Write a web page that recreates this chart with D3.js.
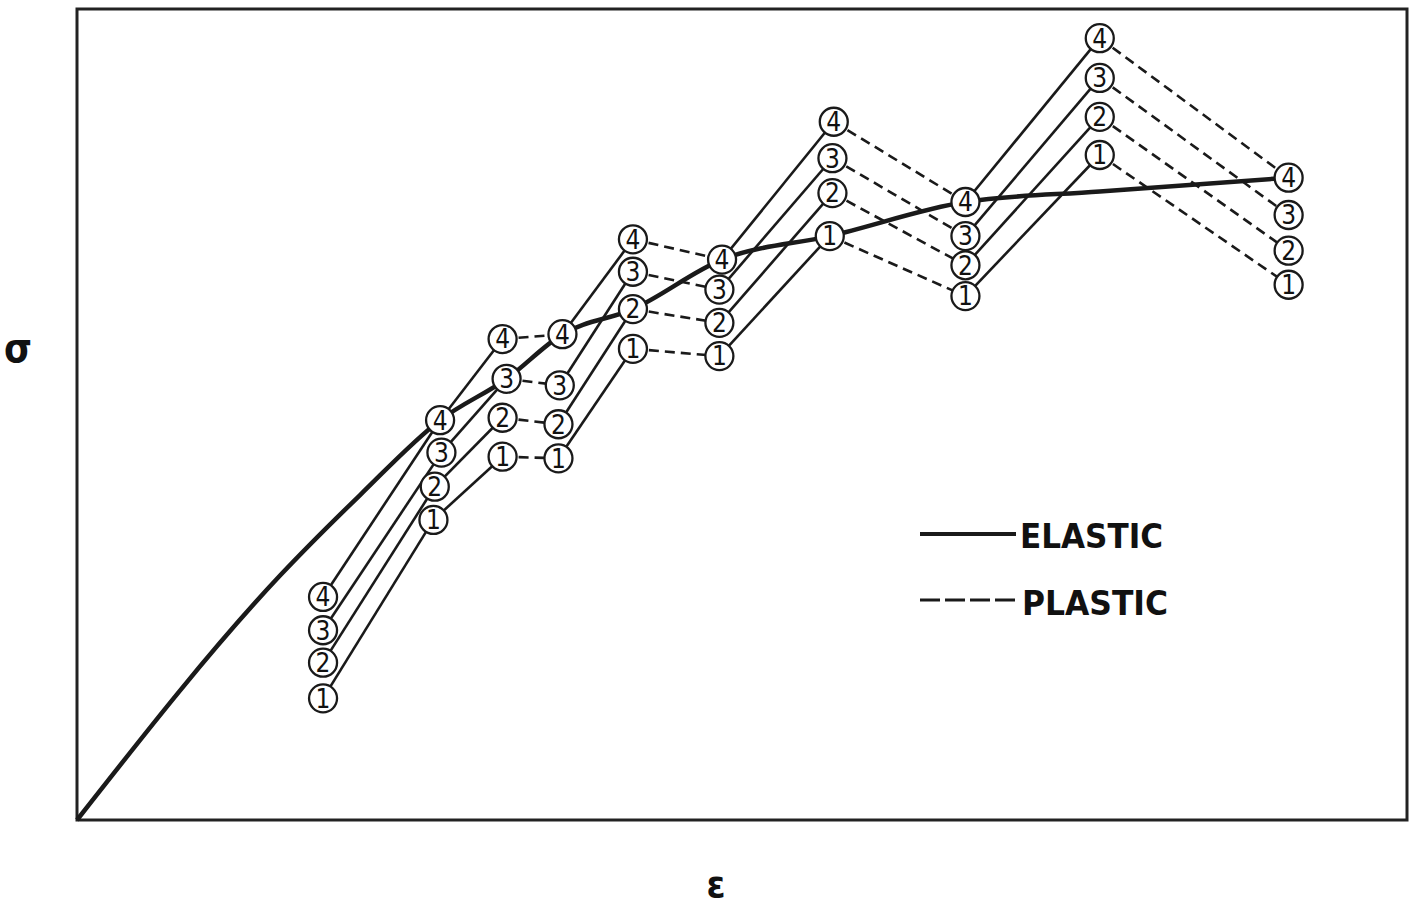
<!DOCTYPE html>
<html>
<head>
<meta charset="utf-8">
<script src="https://cdn.jsdelivr.net/npm/d3@7"></script>
<style>
  html, body { margin: 0; padding: 0; background: #fff; }
  svg { display: block; }
  .lbl { font-family: "Liberation Sans Narrow", "DejaVu Sans Condensed", "Liberation Sans", sans-serif; fill: #111; }
</style>
</head>
<body>
<svg id="chart" width="1418" height="909"></svg>
<script>
// Strain stations (columns A..J) for each numbered load path
const seriesIds = [1, 2, 3, 4];
const strain1 = [18.5, 26.8, 32.0, 36.2, 41.8, 48.3, 56.6, 66.8, 76.9, 91.1];
const strain2 = [18.5, 26.9, 32.0, 36.2, 41.8, 48.3, 56.8, 66.8, 76.9, 91.1];
const strain3 = [18.5, 27.4, 32.3, 36.3, 41.8, 48.3, 56.8, 66.8, 76.9, 91.1];
const strain4 = [18.5, 27.3, 32.0, 36.5, 41.8, 48.5, 56.9, 66.8, 76.9, 91.1];

// Stress at each station
const stress1 = [15.0, 37.0, 44.8, 44.6, 58.1, 57.2, 72.0, 64.6, 82.0, 66.0];
const stress2 = [19.4, 41.1, 49.6, 48.8, 63.0, 61.3, 77.3, 68.4, 86.7, 70.2];
const stress3 = [23.4, 45.3, 54.4, 53.6, 67.6, 65.4, 81.6, 72.0, 91.5, 74.6];
const stress4 = [27.5, 49.3, 59.3, 59.9, 71.6, 69.1, 86.1, 76.2, 96.4, 79.2];

// Segment types between consecutive stations
const segmentKinds = ["elastic", "elastic", "plastic", "elastic", "plastic",
                      "elastic", "plastic", "elastic", "plastic"];

// Elastic (monotonic) stress-strain curve
const curveStrain = [0, 15.3, 21.3, 27.3, 32.3, 36.5, 41.8, 48.5, 56.6, 66.8, 76.9, 91.1];
const curveStress = [0, 30.2, 40.1, 49.3, 54.4, 59.9, 63.0, 69.1, 72.0, 76.2, 77.5, 79.2];

const legendLabels = ["ELASTIC", "PLASTIC"];
const xTitle = "ε";
const yTitle = "σ";

const strains = [strain1, strain2, strain3, strain4];
const stresses = [stress1, stress2, stress3, stress4];

const svg = d3.select("#chart");
const plot = { left: 77, right: 1407, top: 9, bottom: 820 };

const x = d3.scaleLinear().domain([0, 100]).range([plot.left, plot.right]);
const y = d3.scaleLinear().domain([0, 100]).range([plot.bottom, plot.top]);

// Frame
svg.append("rect")
  .attr("x", x(0)).attr("y", y(100))
  .attr("width", x(100) - x(0)).attr("height", y(0) - y(100))
  .attr("fill", "none").attr("stroke", "#222").attr("stroke-width", 3);

// Elastic curve
const curvePts = curveStrain.map((e, i) => [e, curveStress[i]]);
svg.append("path")
  .datum(curvePts)
  .attr("d", d3.line().x(d => x(d[0])).y(d => y(d[1])).curve(d3.curveMonotoneX))
  .attr("fill", "none").attr("stroke", "#1a1a1a").attr("stroke-width", 4.5)
  .attr("stroke-linejoin", "round");

// Path segments for each series
const segments = [];
seriesIds.forEach((id, s) => {
  segmentKinds.forEach((kind, i) => {
    segments.push({
      kind,
      x1: strains[s][i], y1: stresses[s][i],
      x2: strains[s][i + 1], y2: stresses[s][i + 1]
    });
  });
});

svg.append("g").selectAll("line")
  .data(segments)
  .join("line")
  .attr("x1", d => x(d.x1)).attr("y1", d => y(d.y1))
  .attr("x2", d => x(d.x2)).attr("y2", d => y(d.y2))
  .attr("stroke", "#1a1a1a")
  .attr("stroke-width", 2.6)
  .attr("stroke-dasharray", d => d.kind === "plastic" ? "10,6" : null);

// Numbered markers
const markers = [];
seriesIds.forEach((id, s) => {
  strains[s].forEach((e, i) => markers.push({ id, e, s: stresses[s][i] }));
});

const mg = svg.append("g").selectAll("g")
  .data(markers)
  .join("g")
  .attr("transform", d => `translate(${x(d.e)},${y(d.s)})`);

mg.append("circle")
  .attr("r", 14)
  .attr("fill", "#fff")
  .attr("stroke", "#1a1a1a")
  .attr("stroke-width", 2.3);

mg.append("text")
  .attr("class", "lbl")
  .attr("text-anchor", "middle")
  .attr("dy", "0.36em")
  .attr("font-size", 26)
  .text(d => d.id);

// Legend
const legend = svg.append("g");
const legendRows = [
  { label: legendLabels[0], dash: null, ly: 534, ty: 548, tx: 1020, tw: 143 },
  { label: legendLabels[1], dash: "20,5", ly: 600, ty: 615, tx: 1022, tw: 146 }
];
legendRows.forEach(r => {
  legend.append("line")
    .attr("x1", 920).attr("x2", 1016)
    .attr("y1", r.ly).attr("y2", r.ly)
    .attr("stroke", "#1a1a1a")
    .attr("stroke-width", r.dash ? 3.2 : 4)
    .attr("stroke-dasharray", r.dash);
  legend.append("text")
    .attr("class", "lbl")
    .attr("x", r.tx).attr("y", r.ty)
    .attr("font-size", 34)
    .attr("font-weight", "bold")
    .attr("textLength", r.tw)
    .attr("lengthAdjust", "spacingAndGlyphs")
    .text(r.label);
});

// Axis titles
svg.append("text")
  .attr("class", "lbl")
  .attr("x", 18).attr("y", 362)
  .attr("text-anchor", "middle")
  .attr("font-size", 40)
  .attr("font-weight", "bold")
  .text(yTitle);

svg.append("text")
  .attr("class", "lbl")
  .attr("x", 716).attr("y", 897)
  .attr("text-anchor", "middle")
  .attr("font-size", 38)
  .attr("font-weight", "bold")
  .text(xTitle);
</script>
</body>
</html>
